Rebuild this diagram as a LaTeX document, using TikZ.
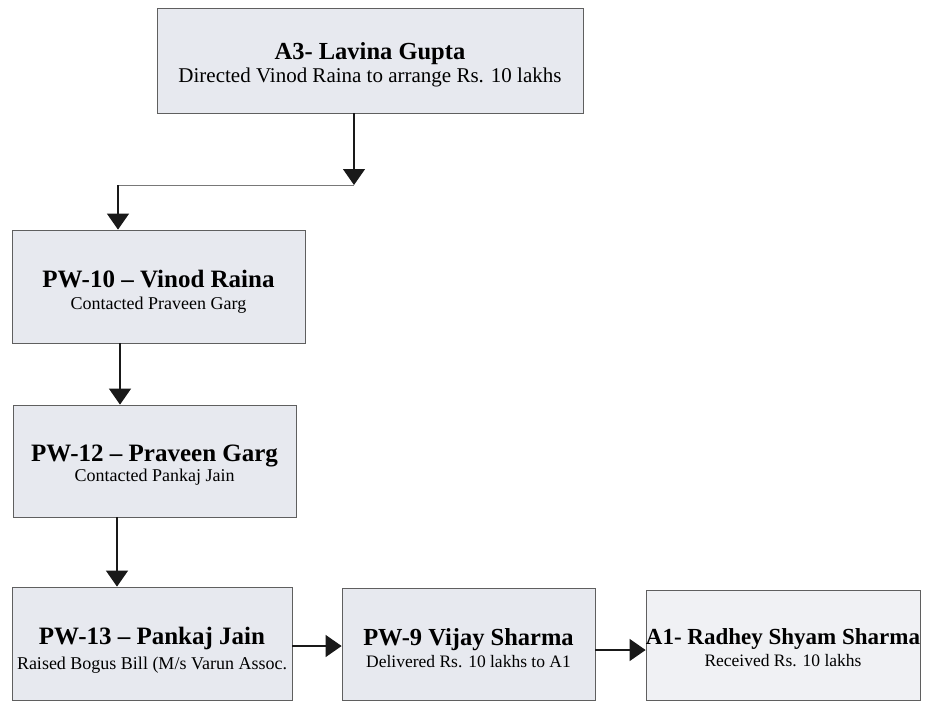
\documentclass[tikz,border=0pt]{standalone}
\usepackage{fontspec}
\setmainfont{Liberation Serif}
\usetikzlibrary{arrows.meta}
\definecolor{boxfill}{RGB}{231,233,239}
\definecolor{boxfillb}{RGB}{240,241,244}
\definecolor{edgegray}{RGB}{95,95,95}
\definecolor{lightline}{RGB}{120,120,120}
\begin{document}
\begin{tikzpicture}[x=1pt,y=-1pt,
  box/.style={draw=edgegray, line width=0.8pt, fill=boxfill, inner sep=0pt},
  txt/.style={align=center, inner sep=0pt, text=black},
  conn/.style={line width=1.2pt, draw=black!90, -{Triangle[width=22pt,length=16pt]}},
  thin/.style={line width=0.9pt, draw=lightline}]
\useasboundingbox[fill=white] (0,0) rectangle (926,702);

% boxes
\node[box, minimum width=426pt, minimum height=105pt] (a3) at (370,60.5) {};
\node[box, minimum width=293pt, minimum height=113pt] (pw10) at (158.5,286.5) {};
\node[box, minimum width=283pt, minimum height=112pt] (pw12) at (154.5,461) {};
\node[box, minimum width=280pt, minimum height=113pt] (pw13) at (152,643.5) {};
\node[box, minimum width=253pt, minimum height=112pt] (pw9) at (468.5,644) {};
\node[box, fill=boxfillb, minimum width=274pt, minimum height=110pt] (a1) at (783,645) {};

% texts
\node[txt, font=\fontsize{21}{23}\selectfont] (a3t) at ([yshift=-4pt]a3.center)
  {{\fontsize{24.5}{23}\selectfont\bfseries A3- Lavina Gupta}\\
   Directed Vinod Raina to arrange Rs. 10 lakhs};
\node[txt, font=\fontsize{18}{22}\selectfont] (pw10t) at ([yshift=-5pt]pw10.center)
  {{\fontsize{25}{22}\selectfont\bfseries PW-10 -- Vinod Raina}\\
   Contacted Praveen Garg};
\node[txt, font=\fontsize{18}{20}\selectfont] (pw12t) at ([yshift=-4pt]pw12.center)
  {{\fontsize{25}{20}\selectfont\bfseries PW-12 -- Praveen Garg}\\
   Contacted Pankaj Jain};
\node[txt, font=\fontsize{18}{25}\selectfont] (pw13t) at ([yshift=-7pt]pw13.center)
  {{\fontsize{25}{25}\selectfont\bfseries PW-13 -- Pankaj Jain}\\
   Raised Bogus Bill (M/s Varun Assoc.};
\node[txt, font=\fontsize{17.5}{22}\selectfont] (pw9t) at ([yshift=-4pt]pw9.center)
  {{\fontsize{24.5}{22}\selectfont\bfseries PW-9 Vijay Sharma}\\
   Delivered Rs. 10 lakhs to A1};
\node[txt, font=\fontsize{17.5}{22}\selectfont] (a1t) at ([yshift=-3pt]a1.center)
  {{\fontsize{23}{22}\selectfont\bfseries A1- Radhey Shyam Sharma}\\
   Received Rs. 10 lakhs};

% connectors
\coordinate (j1) at (354,185);
\coordinate (j2) at (118,185);
\coordinate (c1) at (120,0);
\coordinate (c2) at (117,0);
\coordinate (r1) at (0,646);
\coordinate (r2) at (0,650);

\draw[conn] (a3.south -| j1) -- (j1);
\draw[thin] (j1) -- (j2);
\draw[conn] (j2) -- (j2 |- pw10.north);
\draw[conn] (pw10.south -| c1) -- (pw12.north -| c1);
\draw[conn] (pw12.south -| c2) -- (pw13.north -| c2);
\draw[conn] (pw13.east |- r1) -- (pw9.west |- r1);
\draw[conn] (pw9.east |- r2) -- (a1.west |- r2);
\end{tikzpicture}
\end{document}
